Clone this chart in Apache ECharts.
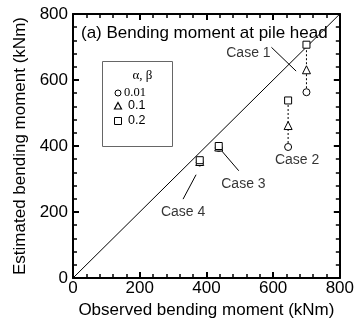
<!DOCTYPE html>
<html><head><meta charset="utf-8">
<script src="https://cdn.jsdelivr.net/npm/echarts@6/dist/echarts.min.js"></script>
<style>html,body{margin:0;padding:0;background:#fff}#c{width:357px;height:324px}</style>
</head><body><div id="c"></div>
<script>
// Data
const cases = ['Case 1', 'Case 2', 'Case 3', 'Case 4'];
const observed = [700, 645, 437, 380];
const est001 = [563, 397, 394, 350]; // alpha,beta = 0.01
const est01 = [631, 462, 397, 353];  // 0.1
const est02 = [707, 538, 400, 357];  // 0.2
const seriesNames = ['0.01', '0.1', '0.2'];
const xTicks = [0, 200, 400, 600, 800];
const yTicks = [0, 200, 400, 600, 800];
// annotation label anchors and leader lines (data units)
const labelPos = [[526, 681], [672, 356], [511, 285], [330, 201]];
const leaders = [
  [[595, 699], [669, 627]],
  null,
  [[446, 385], [497, 325]],
  [[369, 313], [330, 239]]
];

const FONT = 'Liberation Sans';
const chart = echarts.init(document.getElementById('c'));
const axCommon = {
  min: xTicks[0], max: xTicks[xTicks.length - 1], interval: 200,
  axisLine: {onZero: false, lineStyle: {color: '#000', width: 2}},
  axisTick: {inside: true, length: 6, lineStyle: {color: '#000', width: 2}},
  minorTick: {show: true, splitNumber: 5, length: 4, lineStyle: {color: '#000', width: 1.5}},
  splitLine: {show: false},
};
const symbols = ['circle', 'triangle', 'rect'];
const vals = [est001, est01, est02];
const series = [];
series.push({
  type: 'line', data: [[0, 0], [800, 800]], symbol: 'none', silent: true,
  lineStyle: {color: '#000', width: 1}, z: 1
});
cases.forEach((c, i) => {
  series.push({
    type: 'line', symbol: 'none', silent: true,
    data: [[observed[i], est001[i]], [observed[i], est02[i]]],
    lineStyle: {color: '#000', width: 1, type: [2, 2]}, z: 2
  });
});
seriesNames.forEach((n, k) => {
  series.push({
    type: 'scatter', name: n, symbol: symbols[k], symbolSize: k === 1 ? 8 : 7,
    itemStyle: {color: '#fff', borderColor: '#000', borderWidth: 1, opacity: 1},
    data: observed.map((x, i) => [x, vals[k][i]]), z: 5
  });
});
leaders.forEach(l => {
  if (!l) return;
  series.push({
    type: 'line', symbol: 'none', silent: true, data: l,
    lineStyle: {color: '#000', width: 1}, z: 3
  });
});
series.push({
  type: 'scatter', symbolSize: 0, silent: true,
  data: cases.map((c, i) => ({name: c, value: labelPos[i]})),
  label: {show: true, position: 'inside', formatter: '{b}', color: '#000',
    fontFamily: FONT, fontSize: 14},
  z: 6
});

chart.setOption({
  animation: false,
  backgroundColor: '#fff',
  grid: {left: 73, right: 15, top: 14, bottom: 42},
  xAxis: [
    Object.assign({}, axCommon, {
      type: 'value', position: 'bottom',
      name: 'Observed bending moment (kNm)', nameLocation: 'middle', nameGap: 24,
      nameTextStyle: {fontFamily: FONT, fontSize: 17, color: '#000'},
      axisLabel: {fontFamily: FONT, fontSize: 17, color: '#000', margin: 2}
    }),
    Object.assign({}, axCommon, {type: 'value', position: 'top', axisLabel: {show: false}})
  ],
  yAxis: [
    Object.assign({}, axCommon, {
      type: 'value', position: 'left',
      name: 'Estimated bending moment (kNm)', nameLocation: 'middle', nameGap: 36,
      nameTextStyle: {fontFamily: FONT, fontSize: 17, color: '#000'},
      axisLabel: {fontFamily: FONT, fontSize: 17, color: '#000', margin: 5}
    }),
    Object.assign({}, axCommon, {type: 'value', position: 'right', axisLabel: {show: false}})
  ],
  graphic: [
    {type: 'text', x: 81, y: 33, z: 10,
      style: {text: '(a) Bending moment at pile head', font: '17px "Liberation Sans"', fill: '#000', verticalAlign: 'middle'}},
    {type: 'rect', shape: {x: 102.5, y: 61.5, width: 70, height: 85}, z: 10,
      style: {fill: '#fff', stroke: '#666', lineWidth: 1}},
    {type: 'text', x: 142.5, y: 76, z: 11,
      style: {text: 'α, β', font: '13px "Liberation Serif"', fill: '#000', align: 'center', verticalAlign: 'middle'}},
    {type: 'circle', shape: {cx: 118, cy: 93, r: 3}, z: 11, style: {fill: '#fff', stroke: '#000', lineWidth: 1}},
    {type: 'polygon', shape: {points: [[118, 102.5], [121.5, 109], [114.5, 109]]}, z: 11, style: {fill: '#fff', stroke: '#000', lineWidth: 1.2}},
    {type: 'rect', shape: {x: 114.5, y: 117.5, width: 7, height: 7}, z: 11, style: {fill: '#fff', stroke: '#000', lineWidth: 1}},
    {type: 'text', x: 124, y: 93, z: 11,
      style: {text: seriesNames[0], font: '12.5px "Liberation Serif"', fill: '#000', verticalAlign: 'middle'}},
    {type: 'text', x: 128, y: 106, z: 11,
      style: {text: seriesNames[1], font: '12.5px "Liberation Sans"', fill: '#000', verticalAlign: 'middle'}},
    {type: 'text', x: 128, y: 121, z: 11,
      style: {text: seriesNames[2], font: '12.5px "Liberation Sans"', fill: '#000', verticalAlign: 'middle'}}
  ],
  series: series
});
</script></body></html>
